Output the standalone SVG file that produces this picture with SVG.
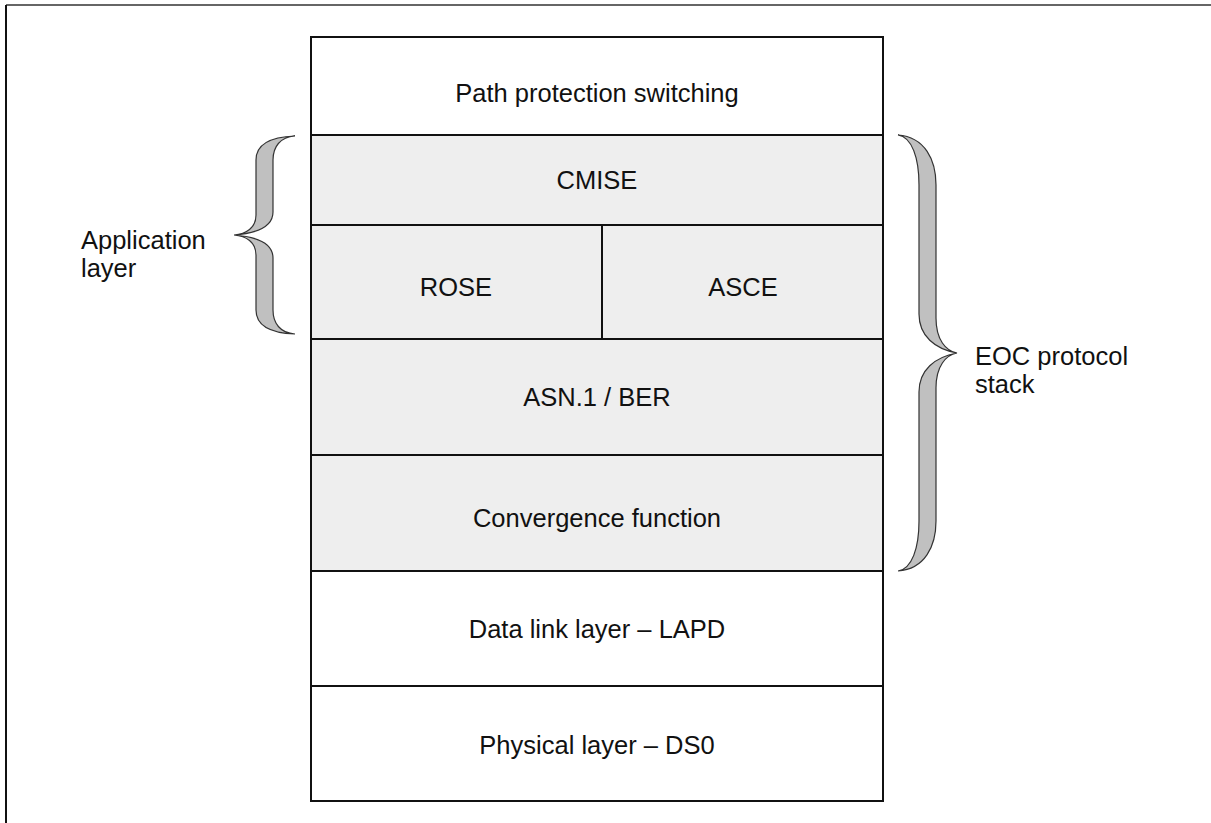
<svg xmlns="http://www.w3.org/2000/svg" width="1211" height="823" viewBox="0 0 1211 823">
<style>
.lay{stroke:#111;stroke-width:2}
.w{fill:#fff}
.g{fill:#eeeeee}
.t{font-family:"Liberation Sans",Arial,sans-serif;font-size:25.5px;fill:#111}
.c{text-anchor:middle}
.br{fill:#c0c0c0;stroke:#333;stroke-width:1.2}
</style>
<rect width="1211" height="823" fill="#fff"/>
<g id="frame">
<line x1="6" y1="5" x2="1211" y2="5" stroke="#666" stroke-width="2"/>
<line x1="6" y1="5" x2="6" y2="823" stroke="#111" stroke-width="2"/>
</g>
<g id="path-protection"><rect class="lay w" x="311" y="37" width="572" height="98"/><text class="t c" x="597" y="102">Path protection switching</text></g>
<g id="cmise"><rect class="lay g" x="311" y="135" width="572" height="90"/><text class="t c" x="597" y="189">CMISE</text></g>
<g id="rose"><rect class="lay g" x="311" y="225" width="291" height="114"/><text class="t c" x="456" y="296">ROSE</text></g>
<g id="asce"><rect class="lay g" x="602" y="225" width="281" height="114"/><text class="t c" x="743" y="296">ASCE</text></g>
<g id="asn1"><rect class="lay g" x="311" y="339" width="572" height="116"/><text class="t c" x="597" y="406">ASN.1 / BER</text></g>
<g id="convergence"><rect class="lay g" x="311" y="455" width="572" height="116"/><text class="t c" x="597" y="527">Convergence function</text></g>
<g id="datalink"><rect class="lay w" x="311" y="571" width="572" height="115"/><text class="t c" x="597" y="638">Data link layer – LAPD</text></g>
<g id="physical"><rect class="lay w" x="311" y="686" width="572" height="115"/><text class="t c" x="597" y="754">Physical layer – DS0</text></g>
<g id="connectors">
<path id="app-brace" class="br" d="M295,136 C268,137 256,146 256,160 L256,215 C256,228 246,234 234,235 C246,236 256,242 256,255 L256,310 C256,324 268,333 295,334 C280,333 273,323 273,310 L273,258 C273,245 260,237 234,235 C260,233 273,225 273,212 L273,160 C273,147 280,137 295,136 Z"/>
<path id="eoc-brace" class="br" d="M898,135 C925,137 936,160 936,185 L936,318 C936,340 946,351 957,353 C946,355 936,366 936,388 L936,521 C936,546 925,569 898,571 C912,569 919,548 919,521 L919,392 C919,370 935,357 957,353 C935,349 919,336 919,314 L919,185 C919,158 912,137 898,135 Z"/>
</g>
<g id="labels">
<text class="t" x="81" y="249">Application</text>
<text class="t" x="81" y="277">layer</text>
<text class="t" x="975" y="365">EOC protocol</text>
<text class="t" x="975" y="393">stack</text>
</g>
</svg>
